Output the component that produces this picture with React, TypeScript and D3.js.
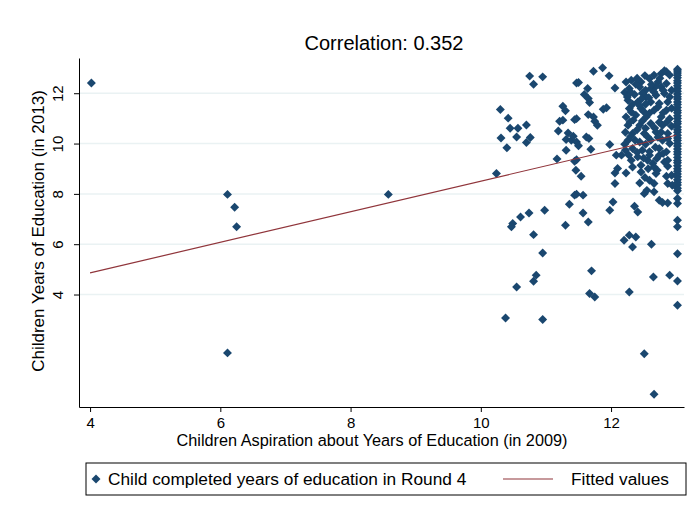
import React, { useEffect, useRef } from "react";
import * as d3 from "d3";

// axis ticks
const xTicks = [4, 6, 8, 10, 12];
const yTicks = [4, 6, 8, 10, 12];

// [aspiration 2009, years completed 2013]
const outliers: [number, number][] = [
  [4.02, 12.41], [6.11, 7.98], [6.22, 7.47], [6.25, 6.69], [6.11, 1.68], [8.58, 7.98],
];

const midRange: [number, number][] = [
  [10.75, 12.68], [10.81, 12.36], [10.95, 12.65], [11.47, 12.41],
  [10.30, 11.35], [10.42, 11.01], [10.45, 10.61], [10.57, 10.61], [10.70, 10.74],
  [10.31, 10.22], [10.55, 10.26], [10.40, 9.83], [10.70, 10.04], [10.76, 10.24],
  [11.26, 11.48], [11.30, 11.30], [11.26, 10.93], [11.21, 10.89], [11.44, 10.95],
  [11.19, 10.50], [11.34, 10.42], [11.31, 10.16], [11.39, 10.13], [11.47, 10.06],
  [11.42, 10.29], [11.31, 9.73], [11.17, 9.39], [11.47, 9.36], [11.46, 8.94],
  [10.24, 8.81], [11.44, 7.95], [11.36, 7.59], [10.98, 7.35], [10.74, 7.24],
  [10.61, 7.08], [10.49, 6.82], [10.47, 6.69], [11.30, 6.75], [10.81, 6.38],
  [10.95, 5.65], [10.85, 4.77], [10.81, 4.53], [10.55, 4.30], [10.38, 3.07],
  [10.95, 3.01],
];

const nearCluster: [number, number][] = [
  [11.50, 12.43], [11.73, 12.87], [11.87, 13.01], [11.97, 12.69], [12.06, 12.21],
  [11.64, 12.19], [11.59, 11.95], [11.65, 11.79], [11.67, 11.63], [11.88, 11.36],
  [11.93, 11.42], [11.65, 11.15], [11.73, 11.06], [11.75, 10.89], [11.79, 10.73],
  [11.47, 10.99], [11.62, 10.26], [11.66, 10.20], [11.98, 9.96], [11.69, 9.77],
  [11.50, 9.91], [11.44, 9.30], [12.08, 9.54], [12.16, 9.54], [12.10, 9.01],
  [11.54, 8.70], [12.06, 8.83], [12.06, 8.41], [11.47, 7.99], [11.57, 7.95],
  [12.03, 7.68], [11.98, 7.35], [11.57, 7.24], [11.65, 6.88], [11.70, 4.94],
  [11.67, 4.04], [11.75, 3.90],
];

const denseCluster: [number, number][] = [
  [12.31, 12.52], [12.23, 12.45], [12.46, 12.45], [12.59, 12.58], [12.66, 12.72],
  [12.77, 12.78], [12.85, 12.85], [12.90, 12.72], [12.72, 12.45], [12.82, 12.89],
  [12.28, 12.19], [12.44, 12.25], [12.21, 12.03], [12.36, 11.95], [12.61, 12.19],
  [12.77, 12.25], [12.85, 12.39], [12.54, 11.85], [12.69, 11.92], [12.82, 11.99],
  [12.26, 11.72], [12.41, 11.65], [12.61, 11.65], [12.74, 11.59], [12.87, 11.65],
  [12.28, 11.39], [12.46, 11.39], [12.66, 11.32], [12.85, 11.32], [12.23, 11.06],
  [12.38, 11.13], [12.54, 11.06], [12.77, 11.06], [12.90, 10.99], [12.26, 10.73],
  [12.44, 10.73], [12.61, 10.80], [12.79, 10.73], [12.33, 10.40], [12.51, 10.40],
  [12.69, 10.46], [12.87, 10.40], [12.26, 10.13], [12.44, 10.06], [12.61, 10.13],
  [12.79, 10.13], [12.90, 10.00], [12.33, 9.80], [12.48, 9.73], [12.74, 9.80],
  [12.85, 9.67], [12.41, 9.47], [12.59, 9.54], [12.74, 9.54], [12.64, 9.21],
  [12.82, 9.27], [12.46, 9.14], [12.31, 9.34], [12.33, 9.07], [12.46, 8.87],
  [12.66, 9.07], [12.87, 9.34], [12.38, 12.36], [12.53, 12.12], [12.69, 12.28],
  [12.33, 11.56], [12.53, 11.56], [12.59, 11.21], [12.74, 10.85], [12.34, 10.93],
  [12.53, 10.61], [12.77, 10.45], [12.37, 10.13], [12.53, 9.97], [12.68, 9.85],
  [12.22, 10.45], [12.21, 9.97], [12.56, 9.34], [12.71, 8.94], [12.22, 9.73],
  [12.93, 10.69], [12.93, 11.40], [12.93, 12.12],
  [12.30, 12.05], [12.48, 12.0], [12.66, 12.05], [12.80, 12.12], [12.25, 11.85],
  [12.47, 11.78], [12.58, 11.82], [12.90, 11.85], [12.31, 11.25], [12.50, 11.27],
  [12.72, 11.45], [12.80, 11.22], [12.44, 11.50], [12.29, 10.86], [12.48, 10.90],
  [12.67, 10.62], [12.86, 10.86], [12.40, 10.55], [12.30, 10.28], [12.56, 10.27],
  [12.72, 10.25], [12.87, 10.2], [12.40, 9.65], [12.59, 9.68], [12.80, 9.6],
  [12.27, 9.55], [12.50, 9.42], [12.70, 9.4], [12.87, 9.1], [12.57, 9.0],
  [12.40, 12.6], [12.52, 12.7], [12.75, 12.6], [12.62, 12.35],
  [12.23, 8.83], [12.44, 8.43], [12.52, 8.65], [12.59, 8.54], [12.66, 8.41],
  [12.69, 8.81], [12.85, 8.70], [12.87, 8.41], [12.51, 8.01], [12.55, 8.14],
  [12.66, 8.08], [12.74, 7.75], [12.79, 7.66], [12.87, 7.64], [12.36, 7.51],
  [12.41, 7.28], [12.28, 6.36], [12.20, 6.16], [12.38, 6.29], [12.33, 5.89],
  [12.62, 6.00], [12.65, 4.70], [12.90, 4.77], [12.28, 4.10], [12.51, 1.65],
  [12.66, 0.04], [12.93, 8.74], [12.94, 8.34],
];

// children whose aspiration was the maximum (13 years)
const maxAspiration = 13.02;
const maxAspirationYears = [
  12.95, 12.88, 12.8, 12.71, 12.62, 12.5, 12.41, 12.3, 12.19, 12.08, 11.97, 11.86,
  11.77, 11.65, 11.55, 11.43, 11.31, 11.22, 11.1, 11.0, 10.88, 10.79, 10.66, 10.55,
  10.45, 10.33, 10.22, 10.12, 10.0, 9.9, 9.78, 9.67, 9.57, 9.45, 9.33, 9.24, 9.12,
  9.0, 8.9, 8.79, 8.68, 8.56, 8.45, 8.35, 8.22, 8.12, 7.82, 7.62, 6.95, 6.69, 5.62,
  4.54, 3.57,
];

// fitted values (linear fit) at the ends of the x range
const fitX = [4, 13];
const fitY = [4.86, 10.33];

const navy = "#1a476f";
const maroon = "#90353b";
const grid = "#eaf2f3";
const font = "'Liberation Sans', Arial, sans-serif";

export default function App() {
  const ref = useRef<SVGSVGElement>(null);

  useEffect(() => {
    const svg = d3.select(ref.current);
    svg.selectAll("*").remove();

    const x = d3.scaleLinear().domain([3.83, 13.12]).range([79, 684]);
    const y = d3.scaleLinear().domain([-0.47, 13.4]).range([407, 58]);

    const points: [number, number][] = [
      ...outliers,
      ...midRange,
      ...nearCluster,
      ...denseCluster,
      ...maxAspirationYears.map((v) => [maxAspiration, v] as [number, number]),
    ];

    svg.append("rect").attr("width", 693).attr("height", 512).attr("fill", "#fff");

    // gridlines
    svg.append("g")
      .selectAll("line")
      .data(yTicks)
      .enter()
      .append("line")
      .attr("x1", x.range()[0])
      .attr("x2", x.range()[1])
      .attr("y1", (d) => y(d))
      .attr("y2", (d) => y(d))
      .attr("stroke", grid)
      .attr("stroke-width", 1.5);

    // scatter
    const diamond = d3.symbol().type(d3.symbolSquare).size(40);
    svg.append("g")
      .selectAll("path")
      .data(points)
      .enter()
      .append("path")
      .attr("d", diamond)
      .attr("transform", (d) => "translate(" + x(d[0]) + "," + y(d[1]) + ") rotate(45)")
      .attr("fill", navy);

    // fitted line
    const line = d3.line<number>().x((d) => x(d)).y((d, i) => y(fitY[i]));
    svg.append("path")
      .datum(fitX)
      .attr("d", line)
      .attr("fill", "none")
      .attr("stroke", maroon)
      .attr("stroke-width", 1.2);

    // axes
    const yAxis = svg.append("g")
      .attr("transform", "translate(79,0)")
      .call(d3.axisLeft(y).tickValues(yTicks).tickSize(5).tickSizeOuter(0).tickFormat(d3.format("d")));
    yAxis.selectAll("text")
      .attr("transform", "rotate(-90)")
      .attr("x", 0)
      .attr("y", -16)
      .attr("dy", null)
      .style("text-anchor", "middle");

    const xAxis = svg.append("g")
      .attr("transform", "translate(0,407)")
      .call(d3.axisBottom(x).tickValues(xTicks).tickSize(5).tickSizeOuter(0).tickPadding(5).tickFormat(d3.format("d")));

    [yAxis, xAxis].forEach((g) => {
      g.select(".domain").attr("stroke", "#000");
      g.selectAll(".tick line").attr("stroke", "#000");
      g.selectAll("text").attr("fill", "#000").style("font-family", font).style("font-size", "15px");
    });

    // titles
    svg.append("text")
      .attr("x", 384)
      .attr("y", 50)
      .attr("text-anchor", "middle")
      .style("font-family", font)
      .style("font-size", "20px")
      .text("Correlation: 0.352");

    svg.append("text")
      .attr("x", 372)
      .attr("y", 446)
      .attr("text-anchor", "middle")
      .style("font-family", font)
      .style("font-size", "16.3px")
      .text("Children Aspiration about Years of Education (in 2009)");

    svg.append("text")
      .attr("transform", "translate(44,231) rotate(-90)")
      .attr("text-anchor", "middle")
      .style("font-family", font)
      .style("font-size", "17px")
      .text("Children Years of Education (in 2013)");

    // legend
    const legend = svg.append("g");
    legend.append("rect")
      .attr("x", 86)
      .attr("y", 463)
      .attr("width", 600)
      .attr("height", 32)
      .attr("fill", "#fff")
      .attr("stroke", "#000");
    legend.append("path")
      .attr("d", diamond)
      .attr("transform", "translate(96,479) rotate(45)")
      .attr("fill", navy);
    legend.append("text")
      .attr("x", 108)
      .attr("y", 485)
      .style("font-family", font)
      .style("font-size", "17.3px")
      .text("Child completed years of education in Round 4");
    legend.append("line")
      .attr("x1", 503)
      .attr("x2", 553)
      .attr("y1", 479)
      .attr("y2", 479)
      .attr("stroke", maroon)
      .attr("stroke-width", 1.2);
    legend.append("text")
      .attr("x", 571)
      .attr("y", 485)
      .style("font-family", font)
      .style("font-size", "17.3px")
      .text("Fitted values");
  }, []);

  return (
    <svg
      ref={ref}
      width={693}
      height={512}
      style={{ position: "absolute", left: 0, top: 0 }}
    />
  );
}
